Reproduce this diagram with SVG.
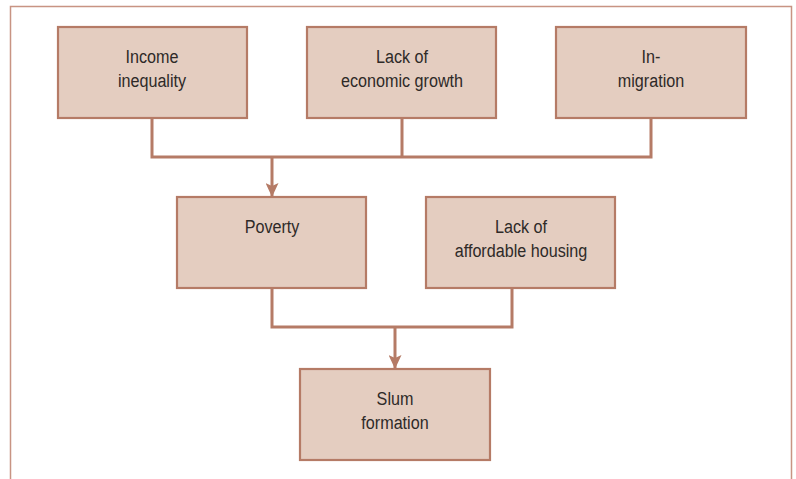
<svg xmlns="http://www.w3.org/2000/svg" width="796" height="479" viewBox="0 0 796 479">
<style>
.box{fill:#e4cdc0;stroke:#b57b66;stroke-width:2.2}
.t{font-family:"Liberation Sans","Arial",sans-serif;font-size:19px;fill:#2e2a28;text-anchor:middle}
.c{fill:none;stroke:#b57b66;stroke-width:3}
</style>
<defs>
<marker id="ah" viewBox="0 0 14 13" refX="14" refY="6.5" markerWidth="14" markerHeight="13" markerUnits="userSpaceOnUse" orient="auto">
<path d="M0,0 L14,6.5 L0,13 L3,6.5 Z" fill="#b57b66"/>
</marker>
</defs>
<path d="M10.5,479 V6.5 H791.5 V479" fill="none" stroke="#c89483" stroke-width="1.5"/>
<g id="connectors">
<path class="c" d="M152,118 V157 H651 V118 M402,118 V157"/>
<path class="c" d="M272,157 V197" marker-end="url(#ah)"/>
<path class="c" d="M272,288 V327 H512 V288"/>
<path class="c" d="M395,327 V369" marker-end="url(#ah)"/>
</g>
<g id="income"><rect class="box" x="58" y="27" width="189" height="91"/><text class="t" transform="translate(152,63) scale(0.85,1)">Income</text><text class="t" transform="translate(152,87) scale(0.85,1)">inequality</text></g>
<g id="growth"><rect class="box" x="307" y="27" width="189" height="91"/><text class="t" transform="translate(402,63) scale(0.85,1)">Lack of</text><text class="t" transform="translate(402,87) scale(0.85,1)">economic growth</text></g>
<g id="migration"><rect class="box" x="556" y="27" width="190" height="91"/><text class="t" transform="translate(651,63) scale(0.85,1)">In-</text><text class="t" transform="translate(651,87) scale(0.85,1)">migration</text></g>
<g id="poverty"><rect class="box" x="177" y="197" width="189" height="91"/><text class="t" transform="translate(272,233) scale(0.85,1)">Poverty</text></g>
<g id="housing"><rect class="box" x="426" y="197" width="189" height="91"/><text class="t" transform="translate(521,257) scale(0.85,1)" y="-24">Lack of</text><text class="t" transform="translate(521,257) scale(0.85,1)">affordable housing</text></g>
<g id="slum"><rect class="box" x="300" y="369" width="190" height="91"/><text class="t" transform="translate(395,405) scale(0.85,1)">Slum</text><text class="t" transform="translate(395,429) scale(0.85,1)">formation</text></g>
</svg>
